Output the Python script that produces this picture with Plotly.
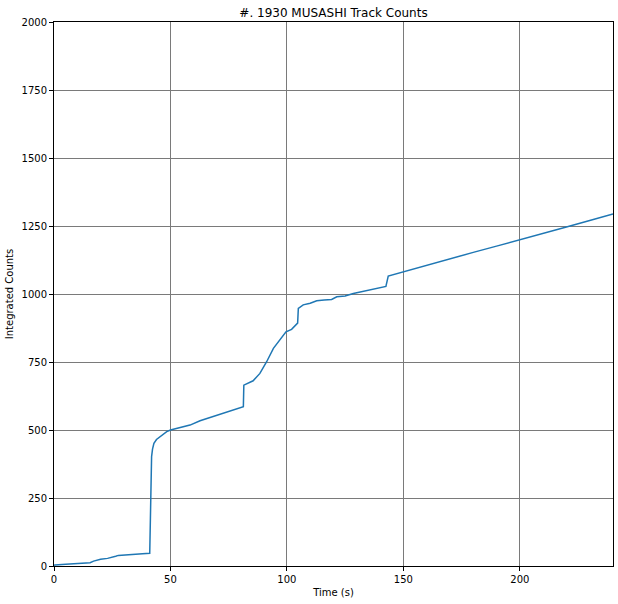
import plotly.graph_objects as go

time_s = [0, 0.4, 5, 10, 14, 15.5, 17, 18.3, 20, 23, 25.5, 26.5, 27.6, 30, 35, 38, 41.1,
          41.3, 41.5, 41.7, 41.9, 42.3, 42.9, 44, 45.5, 47, 48.4, 50, 54, 58.4, 62.7, 66,
          71.3, 75, 78, 81.3, 81.5, 83, 85.5, 88.4, 91.3, 94.2, 97, 99.6, 102, 104.2, 104.6,
          104.9, 107, 110, 112.8, 116, 119.2, 121.4, 125, 128.5, 133, 137, 140, 141.4, 142.5,
          143.5, 146, 149.5, 160, 170, 180, 190, 199.8, 210, 220, 230, 240]
counts = [3, 4, 6, 8, 10, 12, 18, 22, 25, 28, 32, 36, 39, 41, 43, 45, 46.5,
          150, 300, 380, 402, 430, 451, 465, 475, 486, 494, 500, 508, 518, 534, 543,
          559, 567, 576, 586, 665, 672, 681, 708, 751, 800, 832, 861, 870, 890, 893,
          947, 960, 966, 975, 978, 980, 990, 993, 1002, 1010, 1018, 1022, 1025, 1028,
          1066, 1072, 1082, 1106, 1129, 1153, 1176, 1198, 1222, 1246, 1270, 1294]

x_ticks = [0, 50, 100, 150, 200]
y_ticks = [0, 250, 500, 750, 1000, 1250, 1500, 1750, 2000]

fig = go.Figure()
fig.add_trace(go.Scatter(x=time_s, y=counts, mode="lines",
                         line=dict(color="#1f77b4", width=1.5), showlegend=False))

font = dict(family="DejaVu Sans", size=10, color="black")
fig.update_layout(
    width=618, height=604,
    margin=dict(l=54, r=5, t=22, b=38, autoexpand=False),
    paper_bgcolor="white", plot_bgcolor="white",
    title=dict(text="#. 1930 MUSASHI Track Counts", x=0.5, xref="paper",
               y=1, yref="paper", yanchor="bottom", pad=dict(b=5), automargin=False,
               font=dict(family="DejaVu Sans", size=12, color="black")),
    font=font,
)
fig.update_xaxes(range=[0, 240], tickvals=x_ticks, showgrid=True, gridcolor="#7a7a7a",
                 gridwidth=1, showline=True, linecolor="black", linewidth=1, mirror=True,
                 ticks="outside", ticklen=4, tickcolor="black", zeroline=False, automargin=False,
                 title=dict(text="Time (s)", font=font, standoff=4), tickfont=font)
fig.update_yaxes(range=[0, 2000], tickvals=y_ticks, showgrid=True, gridcolor="#7a7a7a",
                 gridwidth=1, showline=True, linecolor="black", linewidth=1, mirror=True,
                 ticks="outside", ticklen=4, tickcolor="black", zeroline=False, automargin=False,
                 title=dict(text="Integrated Counts", font=font, standoff=6), tickfont=font)

fig.write_html("out.html", config={"displayModeBar": False},
               post_script="document.body.style.margin='0';document.body.style.overflow='hidden';")
